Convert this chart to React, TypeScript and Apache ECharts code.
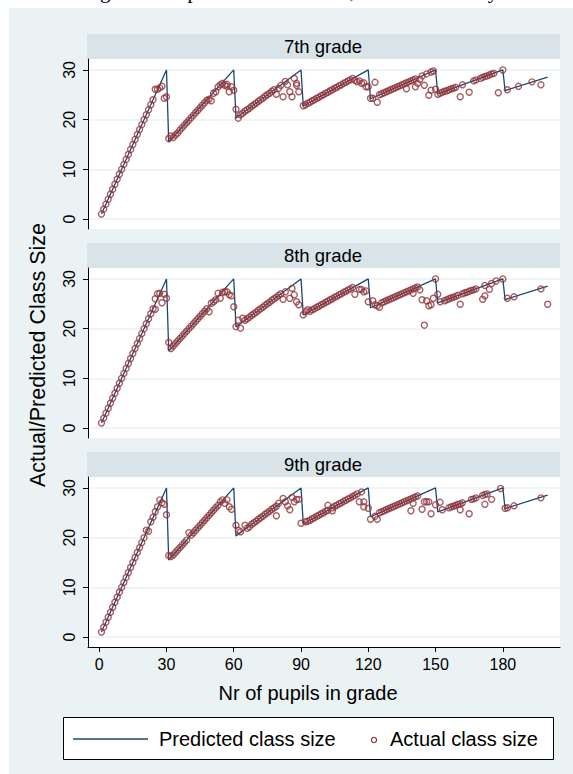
import React, { useEffect, useRef } from "react";
import * as echarts from "echarts";

const gradeLabels = ["7th grade", "8th grade", "9th grade"];
const xTickValues = [0, 30, 60, 90, 120, 150, 180];
const yTickValues = [0, 10, 20, 30];
const seriesNames = ["Predicted class size", "Actual class size"];
const xTitle = "Nr of pupils in grade";
const yTitle = "Actual/Predicted Class Size";
const captionText = "grade and predicted class size, lower secondary";

// vertices of the predicted class size line
const predictedEnrollment = [1, 30, 31, 60, 61, 90, 91, 120, 121, 150, 151, 180, 181, 200];
const predictedSize = [1, 30, 15.5, 30, 20.33, 30, 22.75, 30, 24.2, 30, 25.17, 30, 25.86, 28.57];

const actual7th: number[][] = [
  [1,1],[2,2],[3,3],[4,4],[5,5],[6,6],[7,7],[8,8],[9,9],[10,10],[11,11],[12,12],[13,13],[14,14],[15,15],[16,16],[17,17],[18,18],[19,19],[20,20],[21,21],[22,22],[23,23],[24,24],
  [25,26.1],[26,26.1],[27,26.4],[28,26.7],[29,24.3],[30,24.6],
  [31,16.2],[32,16.7],[33,16.4],[34,16.9],[35,17.3],[36,17.9],[37,18.4],[38,18.9],[39,19.4],[40,19.9],[41,20.4],[42,20.9],[43,21.4],[44,21.9],[45,22.4],[46,22.9],[47,23.4],[48,23.9],[49,24.1],[50,23.8],[51,25.3],[52,25.6],[53,26.6],[54,27.0],[55,27.3],[56,26.9],[57,27.1],[57,26.7],[58,25.6],[59,26.6],[60,25.9],
  [61,22.1],[62,20.3],[63,21],[64,21.3],[65,21.7],[66,22],[67,22.3],[68,22.7],[69,23],[70,23.3],[71,23.7],[72,24],[73,24.3],[74,24.7],[75,25],[76,25.3],[77,25.7],[78,26],[79,25.1],[80,26.3],[81,26.9],[82,24.6],[83,27.7],[84,27],[85,25.6],[86,24.6],[87,28.3],[88,27.3],[88,26.9],[89,25.6],
  [91,22.8],[92,23],[93,23.3],[94,23.5],[95,23.8],[96,24],[97,24.3],[98,24.5],[99,24.8],[100,25],[101,25.3],[102,25.5],[103,25.8],[104,26],[105,26.3],[106,26.5],[107,26.8],[108,27],[109,27.3],[110,27.5],[111,27.8],[112,28],[113,28.3],[114,27.9],[115,27.6],[116,27.8],[117,27.3],[118,27.4],[119,26.6],[120,26.6],
  [121,24.3],[122,24.3],[123,27.5],[124,23.5],[125,25],[126,25.2],[127,25.4],[128,25.6],[129,25.8],[130,26],[131,26.2],[132,26.4],[133,26.6],[134,26.8],[135,27],[136,27.2],[137,26.2],[137,27.4],[138,27.6],[139,27.8],[140,28],[141,26.6],[141,28.2],[142,27.3],[143,28.1],[144,28.8],[145,26.9],[146,29.2],[147,24.9],[148,25.9],[148,29.6],[149,29.8],[150,26.1],
  [151,25.1],[152,25.3],[153,25.5],[154,25.7],[155,25.8],[156,26],[157,26.2],[158,26.3],[159,26.5],[161,24.6],[162,27],[165,25.5],[167,27.8],[168,28],[170,28.3],[171,28.5],[172,28.7],[173,28.8],[174,29],[175,29.2],[176,29.3],[178,25.4],[180,30],[182,26],[187,26.7],[193,27.6],[197,27]
];

const actual8th: number[][] = [
  [1,1],[2,2],[3,3],[4,4],[5,5],[6,6],[7,7],[8,8],[9,9],[10,10],[11,11],[12,12],[13,13],[14,14],[15,15],[16,16],[17,17],[18,18],[19,19],[20,20],[21,21],[22,22],[23,23],[24,24],
  [25,23.9],[25,26],[26,27],[27,27.1],[28,25.2],[29,26.9],[30,26.1],
  [31,17.2],[32,16],[33,16.5],[34,17],[35,17.5],[36,18],[37,18.5],[38,19],[39,19.5],[40,20],[41,20.5],[42,21],[43,21.5],[44,22],[45,22.5],[46,23],[47,23.5],[48,24],[49,23.4],[50,25.1],[51,25.4],[52,25.8],[53,27.1],[54,26.1],[55,27.3],[56,27.4],[57,27.4],[58,26.8],[59,26.6],[60,24.4],
  [61,20.4],[62,21.7],[63,20.1],[64,22.1],[65,21.7],[66,22],[67,22.3],[68,22.7],[69,23],[70,23.3],[71,23.7],[72,24],[73,24.3],[74,24.7],[75,25],[76,25.3],[77,25.7],[78,26],[79,26.3],[80,26.7],[81,27],[82,25.9],[83,27.4],[85,26.1],[86,28.1],[87,26.8],[88,25.4],[89,24.8],
  [91,22.8],[92,23.4],[93,23.8],[94,23.5],[95,23.8],[96,24],[97,24.3],[98,24.5],[99,24.8],[100,25],[101,25.3],[102,25.5],[103,25.8],[104,26],[105,26.3],[106,26.5],[107,26.8],[108,27],[109,27.3],[110,27.5],[111,27.8],[112,28],[113,28.3],[114,26.9],[116,27.9],[117,27.9],[118,27.4],[119,27.6],[120,25.4],
  [122,25.6],[123,24.8],[124,24.6],[125,24.3],[126,25.2],[127,25.4],[128,25.6],[129,25.8],[130,26],[131,26.2],[132,26.4],[133,26.6],[134,26.8],[135,27],[136,27.2],[137,27.4],[138,27.6],[139,27.8],[140,27.1],[140,28],[141,28.2],[142,28.4],[143,27.8],[144,25.8],[145,20.7],[146,25.6],[147,24.6],[148,24.8],[149,26.1],[150,30],
  [151,26.9],[152,25.4],[154,25.6],[155,25.8],[156,26],[157,26.2],[158,26.3],[159,26.5],[160,26.7],[161,24.9],[162,27],[163,27.2],[164,27.3],[165,27.5],[166,27.7],[167,27.8],[168,28],[171,25.9],[172,26.6],[172,28.7],[174,27.9],[175,29.1],[177,29.6],[180,30],[182,26.1],[185,26.4],[197,28],[200,24.9]
];

const actual9th: number[][] = [
  [1,1],[2,2],[3,3],[4,4],[5,5],[6,6],[7,7],[8,8],[9,9],[10,10],[11,11],[12,12],[13,13],[14,14],[15,15],[16,16],[17,17],[18,18],[19,19],[20,20],
  [21,21.5],[22,21.3],[23,23.2],[24,24.1],[25,25.2],[26,26.2],[27,27.6],[28,27],[29,26.7],[30,24.6],
  [31,16.4],[32,16.2],[33,16.5],[34,17],[35,17.5],[36,18],[37,18.5],[38,19],[39,19.5],[40,21],[41,20.5],[42,21],[43,21.5],[44,22],[45,22.5],[46,23],[47,23.5],[48,24],[49,24.5],[50,25],[51,25.5],[52,26],[53,26.5],[54,27.2],[55,27.6],[56,26.9],[57,27.6],[58,26.2],[59,25.7],
  [61,22.5],[62,21.5],[63,21.2],[65,22.5],[66,21.9],[67,22.2],[68,22.7],[69,23],[70,23.3],[71,23.7],[72,24],[73,24.3],[74,24.7],[75,25],[76,25.3],[77,25.7],[78,26],[79,26.3],[79,24.4],[80,26.9],[82,27.9],[83,27.2],[84,26.4],[85,25.6],[86,28.1],[87,27.2],[88,27.7],[89,27.7],
  [90,22.9],[92,23.2],[93,23.3],[94,23.5],[95,23.8],[96,24],[97,24.3],[98,24.5],[99,24.8],[100,25],[101,25.3],[102,26.5],[102,25.5],[104,25.4],[104,26],[105,26.3],[106,26.5],[107,26.8],[108,27],[109,27.3],[110,27.5],[111,27.8],[112,28],[113,28.3],[114,28.5],[115,28.8],[116,27.2],[117,29.2],[118,27.2],[118,26.2],[120,25.9],
  [121,23.7],[123,24.3],[124,23.7],[125,25],[126,25.2],[127,25.4],[128,25.6],[129,25.8],[130,26],[131,26.2],[132,26.4],[133,26.6],[134,26.8],[135,27],[136,27.2],[137,27.4],[138,27.6],[139,25.4],[139,27.8],[140,26.9],[140,28],[141,28.2],[142,28.4],[144,25.7],[145,27.2],[146,27.2],[147,27.2],[148,24.8],[150,26.6],
  [152,27.1],[153,25.6],[156,26],[157,26.2],[158,26.3],[159,26.5],[160,26.7],[161,25.6],[161,26.8],[162,27],[165,24.8],[166,27.7],[167,27.8],[168,28],[171,28.5],[172,26.7],[172,28.7],[173,28.8],[175,27.7],[179,29.9],[181,25.9],[182,26],[185,26.4],[197,28]
];

const actualByGrade = [actual7th, actual8th, actual9th];

const NAVY = "#1a476f";
const MAROON = "#90353b";
const OUTER_BG = "#eaf2f3";
const STRIP_BG = "#d9e4e9";
const FONT = "'Liberation Sans', Arial, sans-serif";

export default function App() {
  const ref = useRef<HTMLDivElement>(null);
  useEffect(() => {
    if (!ref.current) return;
    const chart = echarts.init(ref.current, null, { renderer: "svg" });

    const plotLeft = 88;
    const plotWidth = 472;
    const plotHeight = 170;
    const stripHeight = 25;
    const plotTops = [59, 268, 477];

    const predictedData = predictedEnrollment.map((x, i) => [x, predictedSize[i]]);

    const grid = plotTops.map((t) => ({
      left: plotLeft,
      top: t,
      width: plotWidth,
      height: plotHeight,
      show: true,
      backgroundColor: "#ffffff",
      borderWidth: 0,
      containLabel: false,
    }));

    const xAxis = plotTops.map((_, i) => {
      const last = i === plotTops.length - 1;
      return {
        type: "value",
        gridIndex: i,
        min: -5,
        max: 205.5,
        splitLine: { show: false },
        axisLine: { show: last, onZero: false, lineStyle: { color: "#000", width: 1 } },
        axisTick: { show: last, length: 5, customValues: xTickValues, lineStyle: { color: "#000" } },
        axisLabel: {
          show: last,
          customValues: xTickValues,
          color: "#000",
          fontSize: 16,
          fontFamily: FONT,
          margin: 9,
        },
      };
    });

    const yAxis = plotTops.map((_, i) => ({
      type: "value",
      gridIndex: i,
      min: -2,
      max: 32.2,
      axisLine: { show: true, onZero: false, lineStyle: { color: "#000", width: 1 } },
      axisTick: { show: true, length: 5, customValues: yTickValues, lineStyle: { color: "#000" } },
      axisLabel: {
        customValues: yTickValues,
        rotate: 90,
        color: "#000",
        fontSize: 16,
        fontFamily: FONT,
        margin: 11,
      },
      splitLine: { show: true, lineStyle: { color: OUTER_BG, width: 1.5 } },
    }));

    const series: any[] = [];
    plotTops.forEach((_, i) => {
      series.push({
        name: seriesNames[0],
        type: "line",
        xAxisIndex: i,
        yAxisIndex: i,
        data: predictedData,
        symbol: "none",
        showSymbol: false,
        lineStyle: { color: NAVY, width: 1.3 },
        z: 2,
        silent: true,
      });
      series.push({
        name: seriesNames[1],
        type: "scatter",
        xAxisIndex: i,
        yAxisIndex: i,
        data: actualByGrade[i],
        symbol: "circle",
        symbolSize: 6,
        itemStyle: { color: "rgba(0,0,0,0)", borderColor: MAROON, borderWidth: 1.4 },
        z: 3,
        silent: true,
      });
    });

    const graphic: any[] = [
      {
        type: "rect",
        shape: { x: 9, y: 8, width: 573 - 9, height: 774 - 8 },
        style: { fill: OUTER_BG },
        z: -10,
        silent: true,
      },
      {
        type: "text",
        x: 100,
        y: -9,
        style: {
          text: captionText,
          fill: "#000",
          font: "21px 'Liberation Serif', 'Times New Roman', serif",
          textAlign: "left",
          textVerticalAlign: "middle",
        },
        silent: true,
      },
    ];

    plotTops.forEach((t, i) => {
      graphic.push({
        type: "rect",
        shape: { x: 87, y: t - stripHeight, width: 473, height: stripHeight },
        style: { fill: STRIP_BG },
        z: -5,
        silent: true,
      });
      graphic.push({
        type: "text",
        x: 323,
        y: t - stripHeight / 2,
        style: {
          text: gradeLabels[i],
          fill: "#000",
          font: `18.5px ${FONT}`,
          textAlign: "center",
          textVerticalAlign: "middle",
        },
        silent: true,
      });
    });

    // axis titles
    graphic.push({
      type: "text",
      x: 308,
      y: 693,
      style: {
        text: xTitle,
        fill: "#000",
        font: `20px ${FONT}`,
        textAlign: "center",
        textVerticalAlign: "middle",
      },
      silent: true,
    });
    graphic.push({
      type: "text",
      x: 38,
      y: 355,
      rotation: Math.PI / 2,
      style: {
        text: yTitle,
        fill: "#000",
        font: `21.5px ${FONT}`,
        textAlign: "center",
        textVerticalAlign: "middle",
      },
      silent: true,
    });

    // legend
    graphic.push({
      type: "rect",
      shape: { x: 63.5, y: 717.5, width: 490, height: 42 },
      style: { fill: "#ffffff", stroke: "#000", lineWidth: 1 },
      silent: true,
    });
    graphic.push({
      type: "line",
      shape: { x1: 73, y1: 739, x2: 148, y2: 739 },
      style: { stroke: NAVY, lineWidth: 1.3 },
      silent: true,
    });
    graphic.push({
      type: "text",
      x: 159,
      y: 739,
      style: {
        text: seriesNames[0],
        fill: "#000",
        font: `20px ${FONT}`,
        textAlign: "left",
        textVerticalAlign: "middle",
      },
      silent: true,
    });
    graphic.push({
      type: "circle",
      shape: { cx: 374, cy: 740, r: 2.6 },
      style: { fill: "none", stroke: MAROON, lineWidth: 1.3 },
      silent: true,
    });
    graphic.push({
      type: "text",
      x: 390,
      y: 739,
      style: {
        text: seriesNames[1],
        fill: "#000",
        font: `20px ${FONT}`,
        textAlign: "left",
        textVerticalAlign: "middle",
      },
      silent: true,
    });

    chart.setOption({
      animation: false,
      backgroundColor: "#ffffff",
      textStyle: { fontFamily: FONT },
      grid,
      xAxis,
      yAxis,
      series,
      graphic,
    });

    return () => chart.dispose();
  }, []);

  return (
    <div
      ref={ref}
      style={{ position: "absolute", left: 0, top: 0, width: 573, height: 774 }}
    />
  );
}
